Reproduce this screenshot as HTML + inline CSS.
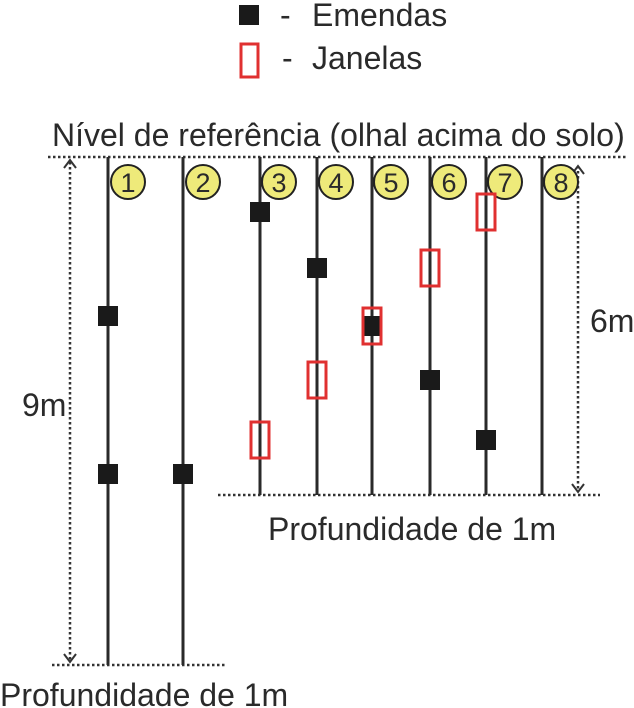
<!DOCTYPE html>
<html><head><style>body{margin:0;background:#fff}svg{display:block}text{font-family:"Liberation Sans",sans-serif;fill:#2a2a2a}</style></head><body>
<svg width="634" height="708" viewBox="0 0 634 708">
<rect x="239" y="5" width="20" height="20" fill="#1a1a1a"/>
<text x="280" y="26" font-size="32">-</text>
<text x="312" y="26" font-size="32">Emendas</text>
<rect x="241" y="44" width="17" height="33" fill="none" stroke="#e03030" stroke-width="3"/>
<text x="282" y="69" font-size="32">-</text>
<text x="312" y="69" font-size="32">Janelas</text>
<text x="52" y="146" font-size="32">Nível de referência (olhal acima do solo)</text>
<g stroke="#333" stroke-width="2.5" stroke-dasharray="2.5,2.5" fill="none">
<line x1="48" y1="157" x2="626" y2="157"/>
<line x1="52" y1="665" x2="226" y2="665"/>
<line x1="218" y1="495" x2="600" y2="495"/>
<line x1="70" y1="162" x2="70" y2="660"/>
<line x1="578" y1="166" x2="578" y2="490"/>
</g>
<g stroke="#333" stroke-width="2" fill="none">
<polyline points="64,168 70,160 76,168"/><polyline points="64,654 70,662 76,654"/>
<polyline points="572,174 578,166 584,174"/><polyline points="572,484 578,492 584,484"/>
</g>
<g stroke="#2a2a2a" stroke-width="3">
<line x1="108" y1="157" x2="108" y2="665"/><line x1="183" y1="157" x2="183" y2="665"/>
<line x1="260" y1="157" x2="260" y2="495"/><line x1="317" y1="157" x2="317" y2="495"/>
<line x1="372" y1="157" x2="372" y2="495"/><line x1="430" y1="157" x2="430" y2="495"/>
<line x1="486" y1="157" x2="486" y2="495"/><line x1="542" y1="157" x2="542" y2="495"/>
</g>
<g fill="#eeea7a" stroke="#222" stroke-width="2">
<circle cx="128" cy="182" r="17"/><circle cx="203" cy="182" r="17"/><circle cx="279" cy="182" r="17"/><circle cx="336" cy="182" r="17"/>
<circle cx="391" cy="182" r="17"/><circle cx="449" cy="182" r="17"/><circle cx="505" cy="182" r="17"/><circle cx="561" cy="182" r="17"/>
</g>
<g font-size="27" text-anchor="middle">
<text x="128" y="192">1</text><text x="203" y="192">2</text><text x="279" y="192">3</text><text x="336" y="192">4</text>
<text x="391" y="192">5</text><text x="449" y="192">6</text><text x="505" y="192">7</text><text x="561" y="192">8</text>
</g>
<g fill="#1a1a1a">
<rect x="98" y="306" width="20" height="20"/><rect x="98" y="464" width="20" height="20"/><rect x="173" y="464" width="20" height="20"/>
<rect x="250" y="202" width="20" height="20"/><rect x="307" y="258" width="20" height="20"/><rect x="362" y="316" width="20" height="20"/>
<rect x="420" y="370" width="20" height="20"/><rect x="476" y="430" width="20" height="20"/>
</g>
<g fill="none" stroke="#e03030" stroke-width="3">
<rect x="477" y="194" width="18" height="36"/><rect x="421" y="250" width="18" height="36"/><rect x="363" y="308" width="18" height="36"/>
<rect x="308" y="362" width="18" height="36"/><rect x="251" y="422" width="18" height="36"/>
</g>
<text x="22" y="416" font-size="32">9m</text>
<text x="590" y="332" font-size="32">6m</text>
<text x="268" y="540" font-size="32">Profundidade de 1m</text>
<text x="0" y="706" font-size="32">Profundidade de 1m</text>
</svg>
</body></html>
